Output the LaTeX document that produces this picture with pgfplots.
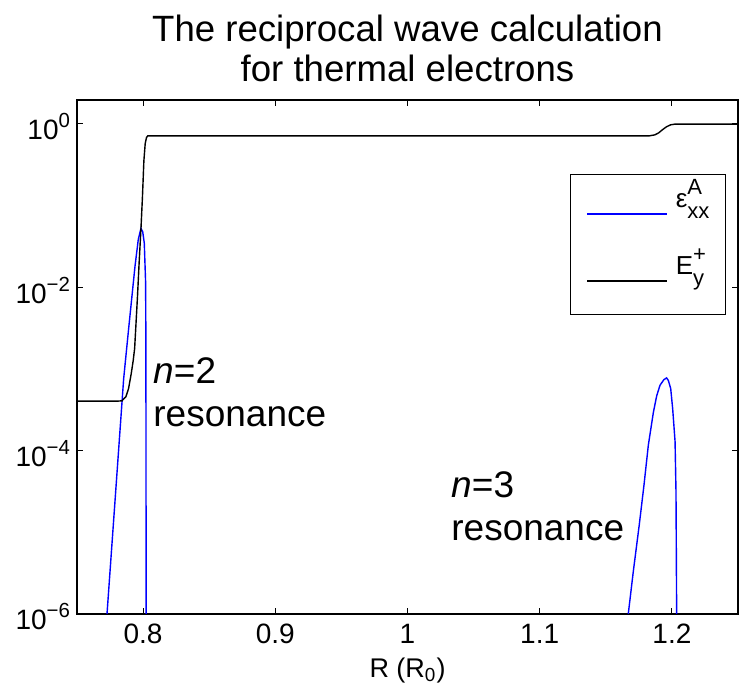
\documentclass[border=0pt]{standalone}
\usepackage{fontspec}
\setmainfont{Liberation Sans}
\usepackage{pgfplots}
\pgfplotsset{compat=1.18}
\newcommand{\ex}[1]{10\raisebox{6pt}{\fontsize{10.2}{12}\selectfont #1}}
\newcommand{\supsub}[2]{\rlap{\raisebox{6.8pt}{\fontsize{11}{12}\selectfont #1}}\raisebox{-5.2pt}{\fontsize{11}{12}\selectfont #2}}
\begin{document}
\begin{tikzpicture}
\useasboundingbox (-38.5pt,-35pt) rectangle (331.5pt,307pt);
\begin{axis}[name=ax, at={(0,0)}, anchor=south west,
 scale only axis, width=330.5pt, height=257pt,
 ymode=log,
 xmin=0.75, xmax=1.25, ymin=1e-6, ymax=1.96,
 xtick={0.8,0.9,1,1.1,1.2}, xticklabels={0.8,0.9,1,1.1,1.2},
 ytick={1e-6,1e-4,1e-2,1},
 yticklabels={\ex{−6},\ex{−4},\ex{−2},\ex{0}},
 xminorticks=false, yminorticks=false,
 tick align=inside, major tick length=3pt,
 tick style={black, line width=0.5pt},
 axis line style={line width=1pt},
 ticklabel style={font=\fontsize{14}{16}\selectfont},
 yticklabel style={yshift=-1.5pt},
 xticklabel style={yshift=-1.5pt},
 xlabel={R (R\textsubscript{0})},
 xlabel style={at={(axis description cs:0.5,0)}, anchor=base, yshift=-31.5pt, inner sep=0pt, font=\fontsize{13.5}{15}\selectfont},
 legend style={at={(0.982,0.856)}, anchor=north east, draw=black, line width=0.6pt, fill=white,
   inner xsep=8pt, inner ysep=7.5pt, row sep=12pt, font=\fontsize{13}{15}\selectfont,
   nodes={inner xsep=0pt, inner ysep=0pt, text height=9pt, text depth=12.5pt}},
 legend cell align=left,
 legend image code/.code={\draw[#1, line width=0.7pt] (0pt,-1.5pt) -- (40pt,-1.5pt); \path (44pt,0pt);},
]
% epsilon_xx^A, n=2 resonance
\addplot[blue, line width=0.7pt] coordinates {
 (0.7727,1e-6) (0.7790,2.75e-5) (0.7853,7.59e-4) (0.7888,2.82e-3) (0.7939,0.0182)
 (0.7964,0.0389) (0.7984,0.0525) (0.7997,0.0479) (0.8009,0.0347) (0.8019,0.01148)
 (0.8021,2.5e-3) (0.8022,1e-4) (0.8023,1e-6)
};
\addlegendentry{ε\supsub{A}{xx}}
% E_y^+
\addplot[black, line width=0.7pt] coordinates {
 (0.75,4.03e-4) (0.780,4.03e-4) (0.784,4.07e-4) (0.787,4.57e-4) (0.789,5.75e-4)
 (0.791,8.71e-4) (0.7925,1.26e-3) (0.7936,1.78e-3) (0.7958,7.94e-3) (0.7970,0.01995)
 (0.7984,0.0525) (0.7995,0.126) (0.8006,0.355) (0.8016,0.575) (0.8026,0.684)
 (0.8036,0.714) (1.183,0.714) (1.187,0.733) (1.190,0.776) (1.193,0.851)
 (1.196,0.923) (1.199,0.973) (1.202,0.991) (1.25,0.991)
};
\addlegendentry{E\supsub{+}{y}}
% epsilon_xx^A, n=3 resonance
\addplot[blue, line width=0.7pt, forget plot] coordinates {
 (1.1670,1e-6) (1.1708,3.31e-6) (1.1753,1.23e-5) (1.1789,3.80e-5) (1.1822,1.175e-4)
 (1.1860,2.95e-4) (1.1885,4.68e-4) (1.1910,6.31e-4) (1.1940,7.41e-4) (1.1960,7.76e-4)
 (1.1973,7.24e-4) (1.1991,5.75e-4) (1.2006,3.24e-4) (1.2024,1.29e-4) (1.2031,3.16e-5)
 (1.2036,1e-6)
};
\node[anchor=base west, inner sep=0pt, font=\fontsize{18.5}{21}\selectfont] at (axis cs:0.8075,6.6e-4) {\textit{n}=2};
\node[anchor=base west, inner sep=0pt, font=\fontsize{18.5}{21}\selectfont] at (axis cs:0.8075,1.95e-4) {resonance};
\node[anchor=base west, inner sep=0pt, font=\fontsize{18.5}{21}\selectfont] at (axis cs:1.0329,2.7e-5) {\textit{n}=3};
\node[anchor=base west, inner sep=0pt, font=\fontsize{18.5}{21}\selectfont] at (axis cs:1.0329,7.9e-6) {resonance};
\end{axis}
\node[anchor=base, inner sep=0pt, font=\fontsize{18.3}{21}\selectfont] at (165.25pt,286pt) {The reciprocal wave calculation};
\node[anchor=base, inner sep=0pt, font=\fontsize{18.3}{21}\selectfont] at (165.25pt,266pt) {for thermal electrons};
\end{tikzpicture}
\end{document}
